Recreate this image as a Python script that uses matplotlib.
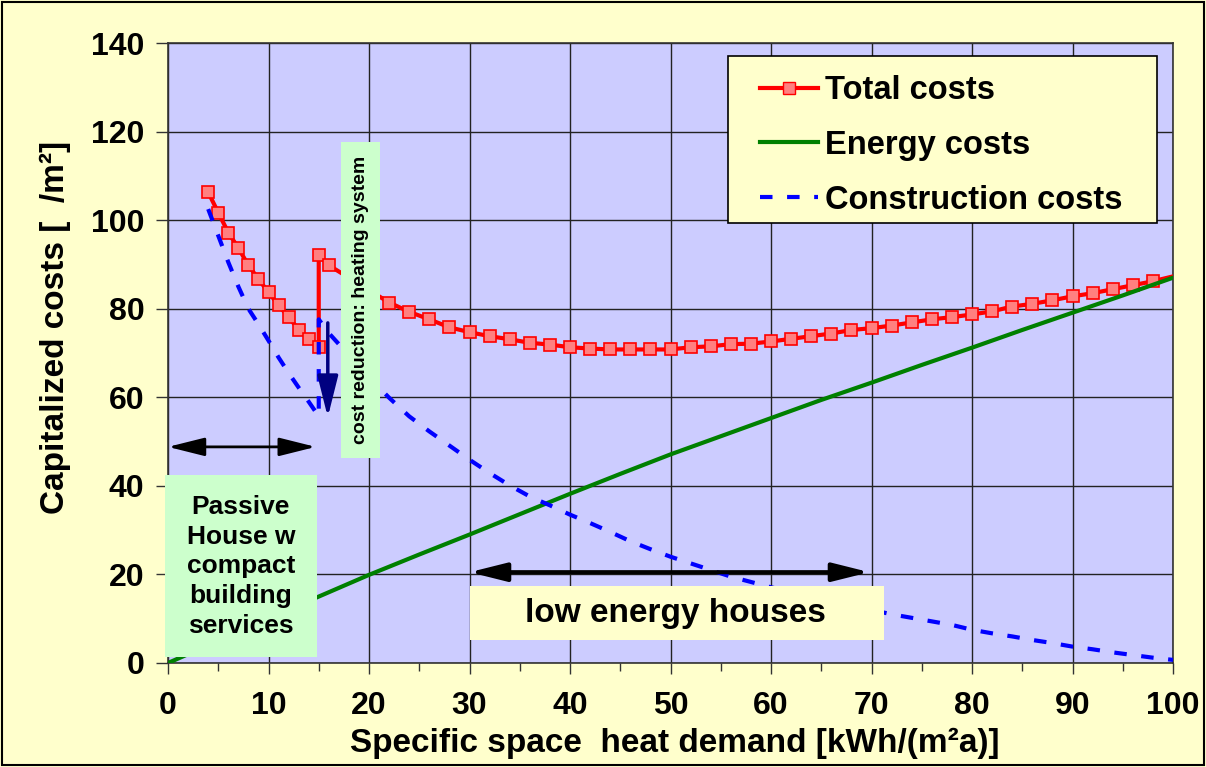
import numpy as np
import matplotlib.pyplot as plt
from matplotlib.patches import Rectangle
from matplotlib.lines import Line2D

# ---------------------------------------------------------------------------
# Data
# ---------------------------------------------------------------------------
x_total = [4, 5, 6, 7, 8, 9, 10, 11, 12, 13, 14, 15,
           15, 16, 18, 20, 22, 24, 26, 28, 30, 32, 34, 36, 38, 40,
           42, 44, 46, 48, 50, 52, 54, 56, 58, 60, 62, 64, 66, 68, 70,
           72, 74, 76, 78, 80, 82, 84, 86, 88, 90, 92, 94, 96, 98, 100]
total_costs = [106.3, 101.7, 97.2, 93.7, 89.8, 86.7, 83.7, 80.8, 78.1, 75.3, 73.1, 71.3,
               92.1, 89.8, 87.0, 84.2, 81.4, 79.3, 77.6, 75.8, 74.7, 73.8, 73.1, 72.3, 71.9, 71.3,
               71.0, 70.8, 70.8, 70.8, 70.8, 71.3, 71.5, 72.0, 72.1, 72.6, 73.2, 73.8, 74.4, 75.2, 75.6,
               76.2, 76.9, 77.6, 78.1, 78.7, 79.4, 80.5, 81.1, 81.9, 82.8, 83.5, 84.4, 85.3, 86.2, 87.3]

construction_costs = [102.5, 96.5, 90.5, 85.0, 80.0, 76.5, 72.8, 69.0, 65.5, 62.2, 59.0, 55.7,
                      77.6, 74.5, 69.5, 64.5, 59.9, 55.7, 52.3, 49.1, 45.9, 42.9, 40.1, 37.6, 35.6, 33.5,
                      31.6, 29.6, 27.5, 25.7, 24.0, 22.5, 21.0, 19.5, 18.3, 17.1, 16.0, 15.0, 14.0, 13.0, 12.0,
                      11.0, 10.2, 9.4, 8.6, 7.5, 6.7, 6.0, 5.2, 4.5, 3.7, 3.1, 2.4, 1.8, 1.2, 0.7]

x_energy = [0, 5, 10, 15, 20, 25, 30, 35, 40, 45, 50, 55, 60, 65, 70, 75, 80, 85, 90, 95, 100]
energy_costs = [0, 5.0, 10.0, 15.0, 19.9, 24.5, 29.0, 33.6, 38.2, 42.7, 47.1, 51.2,
                55.3, 59.4, 63.3, 67.3, 71.2, 75.2, 79.1, 83.0, 87.0]

x_ticks = [0, 10, 20, 30, 40, 50, 60, 70, 80, 90, 100]
y_ticks = [0, 20, 40, 60, 80, 100, 120, 140]

# ---------------------------------------------------------------------------
# Style
# ---------------------------------------------------------------------------
FONT = "Liberation Sans"
BG_FIG = "#FFFFCC"
BG_AX = "#CCCCFF"
RED = "#FF0000"
GREEN = "#008000"
BLUE = "#0000FF"
NAVY = "#000080"

plt.rcParams["font.family"] = [FONT, "DejaVu Sans"]
plt.rcParams["font.weight"] = "bold"

fig = plt.figure(figsize=(12.06, 7.67), dpi=100, facecolor=BG_FIG)
ax = fig.add_axes([168 / 1206, 1 - 663 / 767, 1005 / 1206, 620 / 767])
ax.set_facecolor(BG_AX)

# figure border
fig.patches.append(Rectangle((0.002, 0.002), 0.996, 0.996, transform=fig.transFigure,
                             fill=False, edgecolor="black", linewidth=1.5))

# -- lines --
ax.plot(x_total, total_costs, color=RED, linewidth=3, marker="s", markersize=8,
        markerfacecolor="#FF8080", markeredgecolor=RED, markeredgewidth=1.2,
        markevery=list(range(len(x_total) - 1)), zorder=3, label="Total costs")
ax.plot(x_energy, energy_costs, color=GREEN, linewidth=3, zorder=4, label="Energy costs")
ax.plot(x_total, construction_costs, color=BLUE, linewidth=3, dashes=(3, 3.5),
        zorder=5, label="Construction costs")

# -- axes --
ax.set_xlim(0, 100)
ax.set_ylim(0, 140)
ax.set_xticks(x_ticks)
ax.set_xticks([5, 15, 25, 35, 45, 55, 65, 75, 85, 95], minor=True)
ax.set_yticks(y_ticks)
ax.tick_params(axis="both", which="both", direction="out", color="#333333", width=1)
ax.tick_params(axis="y", length=9, pad=8)
ax.tick_params(axis="x", which="major", length=8, pad=12)
ax.tick_params(axis="x", which="minor", length=6)
for lab in ax.get_xticklabels() + ax.get_yticklabels():
    lab.set_fontsize(23)
    lab.set_fontweight("bold")

ax.grid(True, which="major", color="#222222", linewidth=1, zorder=0)
ax.set_axisbelow(True)
for s in ax.spines.values():
    s.set_color("#333333")
    s.set_linewidth(1.2)

ax.set_xlabel("Specific space  heat demand [kWh/(m²a)]", fontsize=24, fontweight="bold")
ax.xaxis.set_label_coords(0.5045, -0.104)
ax.set_ylabel("Capitalized costs [  /m²]", fontsize=24, fontweight="bold")
ax.yaxis.set_label_coords(-0.097, 0.542)

# -- annotation boxes --
ax.add_patch(Rectangle((-0.3, 1.4), 15.1, 41.1, facecolor="#CCFFCC", edgecolor="none",
                       zorder=6, clip_on=False))
ax.text(7.25, 21.8, "Passive\nHouse w\ncompact\nbuilding\nservices", ha="center", va="center",
        fontsize=19, fontweight="bold", linespacing=1.3, zorder=7)

ax.add_patch(Rectangle((17.2, 46.4), 3.85, 71.2, facecolor="#CCFFCC", edgecolor="none", zorder=6))
ax.text(19.15, 82, "cost reduction: heating system", rotation=90, ha="center", va="center",
        fontsize=14, fontweight="bold", zorder=7)

ax.add_patch(Rectangle((30, 5.2), 41.2, 12.2, facecolor="#FFFFCC", edgecolor="none", zorder=6))
ax.text(50.5, 11.2, "low energy houses", ha="center", va="center",
        fontsize=24, fontweight="bold", zorder=7)

# -- arrows --
ax.annotate("", xy=(0, 48.8), xytext=(14.7, 48.8),
            arrowprops=dict(arrowstyle="<|-|>,head_length=1.6,head_width=0.4",
                            color="black", lw=2, shrinkA=0, shrinkB=0, mutation_scale=14),
            zorder=8)
ax.annotate("", xy=(30, 20.5), xytext=(69.8, 20.5),
            arrowprops=dict(arrowstyle="<|-|>,head_length=1.6,head_width=0.4",
                            color="black", lw=3, shrinkA=0, shrinkB=0, mutation_scale=14),
            zorder=8)
ax.annotate("", xy=(15.9, 55.5), xytext=(15.9, 76.8),
            arrowprops=dict(arrowstyle="-|>,head_length=1.8,head_width=0.45",
                            color=NAVY, lw=2.5, shrinkA=0, shrinkB=0, mutation_scale=14),
            zorder=8)

# -- legend (frame drawn separately so the padding matches) --
ax.add_patch(Rectangle((0.557, 0.7097), 0.427, 0.2693, transform=ax.transAxes,
                       facecolor="#FFFFCC", edgecolor="black", linewidth=1.2, zorder=9))
handles = [
    Line2D([], [], color=RED, linewidth=3, marker="s", markersize=8,
           markerfacecolor="#FF8080", markeredgecolor=RED),
    Line2D([], [], color=GREEN, linewidth=3),
    Line2D([], [], color=BLUE, linewidth=3, dashes=(3, 3.5)),
]
leg = ax.legend(handles, ["Total costs", "Energy costs", "Construction costs"],
                loc="upper left", bbox_to_anchor=(0.589, 0.9485), borderaxespad=0,
                prop={"family": FONT, "weight": "bold", "size": 23.5},
                frameon=False, handlelength=1.78, handletextpad=0.22, labelspacing=0.73,
                borderpad=0)
leg.set_zorder(10)

fig.savefig("out.png", dpi=100, facecolor=BG_FIG)
